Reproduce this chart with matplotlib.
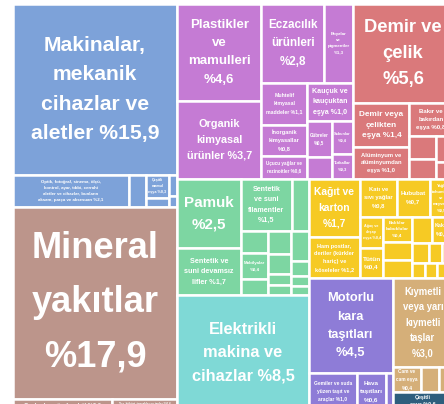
import matplotlib
matplotlib.use('Agg')
import matplotlib.pyplot as plt
from matplotlib.patches import Rectangle

# ---------------- data ----------------
makine_labels = ["Makinalar,\nmekanik\ncihazlar ve\naletler %15,9",
                 "Optik, fotoğraf, sinema, ölçü,\nkontrol, ayar, tıbbi, cerrahi\naletler ve cihazlar, bunların\naksam, parça ve aksesuarı %2,1",
                 "", "Çeşitli\nmamul\neşya %0,3", "", "", ""]
makine_values = [15.9, 2.1, 0.3, 0.3, 0.12, 0.1, 0.05]

mineral_labels = ["Mineral\nyakıtlar\n%17,9",
                  "Cevherler, cüruf ve kül %0,6",
                  "Tuz, kükürt, topraklar ve taşlar %0,4"]
mineral_values = [17.9, 0.6, 0.4]

kimya_labels = ["Plastikler\nve\nmamulleri\n%4,6", "Organik\nkimyasal\nürünler %3,7",
                "Eczacılık\nürünleri\n%2,8", "Boyalar\nve\npigmentler\n%1,3",
                "Muhtelif\nkimyasal\nmaddeler %1,1", "İnorganik\nkimyasallar\n%0,8",
                "Uçucu yağlar ve\nrezinoitler %0,6", "Kauçuk ve\nkauçuktan\neşya %1,0",
                "Gübreler\n%0,5", "", "Sabunlar\n%0,4", "Tutkallar\n%0,3"]
kimya_values = [4.6, 3.7, 2.8, 1.3, 1.1, 0.8, 0.6, 1.0, 0.5, 0.3, 0.4, 0.3]

metal_labels = ["Demir ve\nçelik\n%5,6", "Demir veya\nçelikten\neşya %1,4",
                "Alüminyum ve\nalüminyumdan\neşya %1,0", "Bakır ve\nbakırdan\neşya %0,8",
                "", "", "", ""]
metal_values = [5.6, 1.4, 1.0, 0.8, 0.34, 0.3, 0.25, 0.16]

tekstil_labels = ["Pamuk\n%2,5", "Sentetik ve\nsuni devamsız\nlifler %1,7",
                  "Sentetik\nve suni\nfilamentler\n%1,5", "", "", "Mobilyalar\n%0,4",
                  "", "", "", "", "", "", "", "", ""]
tekstil_values = [2.5, 1.7, 1.5, 0.5, 0.35, 0.4, 0.25, 0.3, 0.25, 0.15, 0.13,
                  0.3, 0.15, 0.1, 0.09]

elektrik_labels = ["Elektrikli\nmakina ve\ncihazlar %8,5"]
elektrik_values = [8.5]

kagit_labels = ["Kağıt ve\nkarton\n%1,7", "Ham postlar,\nderiler (kürkler\nhariç) ve\nköseleler %1,2",
                "Katı ve\nsıvı yağlar\n%0,8", "Hububat\n%0,7", "Yağlı\ntohumlar\nve\nmeyveler\n%0,5",
                "Ağaç ve\nahşap\neşya %0,4", "Tütün\n%0,4", "Balıklar\nkabuklular\n%0,4",
                "", "", "", "Kakao\n%0,3", "", "", "", "", "", "", ""]
kagit_values = [1.7, 1.2, 0.8, 0.7, 0.5, 0.4, 0.4, 0.4, 0.3, 0.3, 0.3, 0.3,
                0.2, 0.15, 0.12, 0.12, 0.1, 0.08, 0.06]

tasit_labels = ["Motorlu\nkara\ntaşıtları\n%4,5", "Gemiler ve suda\nyüzen taşıt ve\naraçlar %1,0",
                "Hava\ntaşıtları\n%0,6", ""]
tasit_values = [4.5, 1.0, 0.6, 0.15]

kiymetli_labels = ["Kıymetli\nveya yarı\nkıymetli\ntaşlar\n%3,0", "Cam ve\ncam eşya\n%0,4", "", ""]
kiymetli_values = [3.0, 0.4, 0.25, 0.2]

cesitli_labels = ["Çeşitli\neşya %0,6"]
cesitli_values = [0.6]

# ---------------- styling ----------------
groups = {
    'm': (makine_labels, makine_values, '#7DA2D9'),
    'y': (mineral_labels, mineral_values, '#BC958B'),
    'c': (kimya_labels, kimya_values, '#C57BD4'),
    'r': (metal_labels, metal_values, '#DA797B'),
    't': (tekstil_labels, tekstil_values, '#7DD6A2'),
    'e': (elektrik_labels, elektrik_values, '#7FD9D6'),
    'p': (kagit_labels, kagit_values, '#F6CA24'),
    'v': (tasit_labels, tasit_values, '#8E7CD7'),
    'k': (kiymetli_labels, kiymetli_values, '#D5AF79'),
    'z': (cesitli_labels, cesitli_values, '#2E5E7D'),
}


def H(*c):
    return ('h', list(c))


def V(*c):
    return ('v', list(c))


def L(g, i):
    return ('leaf', g, i)


def value(node):
    if node[0] == 'leaf':
        return groups[node[1]][1][node[2]]
    return sum(value(c) for c in node[1])


cells = []


def layout(node, x0, y0, x1, y1):
    if node[0] == 'leaf':
        cells.append((node[1], node[2], x0, y0, x1, y1))
        return
    total = value(node)
    pos = x0 if node[0] == 'h' else y0
    for c in node[1]:
        frac = value(c) / total
        if node[0] == 'h':
            w = (x1 - x0) * frac
            layout(c, pos, y0, pos + w, y1)
            pos += w
        else:
            h = (y1 - y0) * frac
            layout(c, x0, pos, x1, pos + h)
            pos += h


m = lambda i: L('m', i)
makine_tree = V(m(0), H(m(1), m(2), V(m(3), m(4)), V(m(5), m(6))))
mineral_tree = V(L('y', 0), H(L('y', 1), L('y', 2)))
c = lambda i: L('c', i)
kimya_tree = H(V(c(0), c(1)),
               V(H(c(2), c(3)),
                 H(V(c(4), c(5), c(6)),
                   V(c(7), H(V(c(8), c(9)), V(c(10), c(11)))))))
r = lambda i: L('r', i)
metal_tree = V(r(0), H(V(r(1), r(2)), V(r(3), H(V(r(4), r(5)), V(r(6), r(7))))))
t = lambda i: L('t', i)
tekstil_tree = H(V(t(0), t(1)),
                 V(H(t(2), t(3)),
                   H(V(t(4), t(5), t(6)), V(t(7), t(8), t(9), t(10)),
                     V(t(11), t(12), t(13), t(14)))))
elektrik_tree = L('e', 0)
p = lambda i: L('p', i)
kagit_tree = H(V(p(0), p(1)),
               V(H(p(2), p(3), p(4)),
                 H(V(p(5), p(6)), V(p(7), p(8), p(9)),
                   V(H(p(10), p(11)), H(p(12), p(13), p(14)),
                     H(p(15), p(16), p(17), p(18))))))
tasit_tree = V(L('v', 0), H(L('v', 1), L('v', 2), L('v', 3)))
kiymetli_tree = V(L('k', 0), H(L('k', 1), L('k', 2), L('k', 3)))
cesitli_tree = L('z', 0)

root = H(V(makine_tree, mineral_tree),
         V(H(kimya_tree, metal_tree),
           H(V(tekstil_tree, elektrik_tree),
             V(kagit_tree, H(tasit_tree, V(kiymetli_tree, cesitli_tree))))))

X0, Y0, W, HH = 12.8, 3.8, 440, 406
layout(root, X0, Y0, X0 + W, Y0 + HH)

fig = plt.figure(figsize=(4.44, 4.04), dpi=100)
ax = fig.add_axes([0, 0, 1, 1])
ax.set_xlim(0, 444)
ax.set_ylim(404, 0)
ax.axis('off')
renderer = fig.canvas.get_renderer()

for g, i, x0, y0, x1, y1 in cells:
    labels, values, color = groups[g]
    ax.add_patch(Rectangle((x0, y0), x1 - x0, y1 - y0, facecolor=color,
                           edgecolor='white', linewidth=1.8))
    lab = labels[i]
    if lab:
        cw, ch = x1 - x0, y1 - y0
        txt = ax.text((x0 + x1) / 2, (y0 + y1) / 2, lab, fontsize=10,
                      family='Liberation Sans', weight='bold', color='white',
                      ha='center', va='center', multialignment='center',
                      linespacing=1.7)
        bb = txt.get_window_extent(renderer)
        scale = min(0.78 * cw / bb.width, 0.78 * ch / bb.height)
        txt.set_fontsize(min(10 * scale, 27))

fig.savefig('out.png', dpi=100)
